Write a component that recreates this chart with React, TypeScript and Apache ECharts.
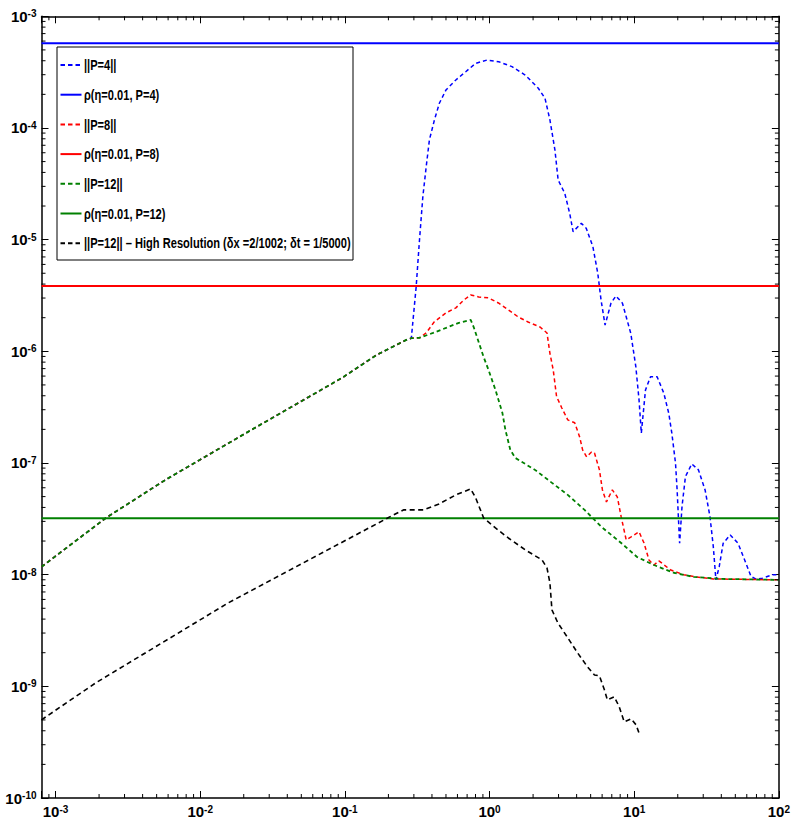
import React, { useEffect, useRef } from "react";
import * as echarts from "echarts";

const X_MIN = 8e-4;
const X_MAX = 100;
const Y_MIN = 1e-10;
const Y_MAX = 1e-3;

// shared low-frequency rise (all three coarse runs coincide here)
const sharedRise: number[][] = [
  [8.0e-4, 1.175e-8],
  [2.23e-3, 3.22e-8],
  [5.75e-3, 7.06e-8],
  [0.0214, 1.9e-7],
  [0.0955, 5.78e-7],
  [0.166, 9.29e-7],
  [0.266, 1.265e-6],
  [0.288, 1.31e-6],
];

const p4Tail: number[][] = [
  [0.311, 3.77e-6], [0.328, 9.94e-6], [0.346, 2.43e-5], [0.365, 4.5e-5],
  [0.384, 7.82e-5], [0.416, 1.18e-4], [0.45, 1.665e-4], [0.5, 2.19e-4],
  [0.585, 2.69e-4], [0.685, 3.19e-4], [0.802, 3.79e-4], [0.964, 4.06e-4],
  [1.158, 3.92e-4], [1.43, 3.54e-4], [1.763, 2.98e-4], [2.174, 2.27e-4],
  [2.417, 1.845e-4], [2.615, 1.18e-4], [2.831, 6.36e-5], [2.98, 3.42e-5],
  [3.311, 2.6e-5], [3.582, 1.72e-5], [3.78, 1.18e-5], [4.31, 1.4e-5],
  [4.66, 1.265e-5], [5.18, 8.65e-6], [5.6, 5.0e-6], [5.9, 2.88e-6],
  [6.29, 1.72e-6], [6.91, 2.7e-6], [7.48, 3.13e-6], [8.29, 2.7e-6],
  [9.47, 1.45e-6], [10.26, 7.3e-7], [10.8, 3.67e-7], [11.2, 1.85e-7],
  [11.97, 4.51e-7], [12.97, 5.93e-7], [14.4, 5.93e-7], [16.02, 4.22e-7],
  [17.33, 2.79e-7], [18.2, 1.85e-7], [19.3, 9.95e-8], [19.8, 5.74e-8],
  [20.6, 1.91e-8], [21.4, 4.07e-8], [22.6, 7.55e-8], [25.0, 9.8e-8],
  [27.8, 8.67e-8], [30.9, 5.74e-8], [33.4, 3.31e-8], [35.2, 1.79e-8],
  [36.7, 8.98e-9], [38.7, 1.18e-8], [41.2, 1.91e-8], [46.1, 2.27e-8],
  [52.2, 1.91e-8], [58.0, 1.355e-8], [64.2, 9.62e-9], [69.6, 9.12e-9],
  [77.4, 9.31e-9], [90.6, 1.0e-8], [100, 1.0e-8],
];

const p8Tail: number[][] = [
  [0.327, 1.32e-6], [0.365, 1.46e-6], [0.414, 1.83e-6], [0.5, 2.21e-6],
  [0.585, 2.45e-6], [0.664, 2.88e-6], [0.741, 3.2e-6], [0.841, 3.07e-6],
  [0.984, 3.01e-6], [1.152, 2.71e-6], [1.349, 2.35e-6], [1.579, 2.03e-6],
  [1.848, 1.83e-6], [2.234, 1.65e-6], [2.495, 1.46e-6], [2.615, 9.6e-7],
  [2.755, 6.82e-7], [2.907, 3.93e-7], [3.16, 3.11e-7], [3.473, 2.43e-7],
  [3.878, 2.29e-7], [4.197, 1.71e-7], [4.4, 1.31e-7], [4.69, 1.135e-7],
  [5.07, 1.256e-7], [5.315, 1.23e-7], [5.75, 8.67e-8], [6.03, 5.74e-8],
  [6.425, 4.48e-8], [7.06, 5.74e-8], [7.64, 4.97e-8], [8.13, 3.29e-8],
  [8.8, 2.05e-8], [9.52, 2.18e-8], [10.8, 2.42e-8], [11.69, 1.92e-8],
  [12.65, 1.355e-8], [13.68, 1.22e-8], [14.8, 1.33e-8], [17.89, 1.1e-8],
  [21.96, 1.0e-8], [26.95, 9.55e-9], [35.2, 9.16e-9], [100, 8.98e-9],
];

const p12Tail: number[][] = [
  [0.327, 1.32e-6], [0.407, 1.46e-6], [0.5, 1.62e-6], [0.613, 1.8e-6],
  [0.741, 1.91e-6], [0.777, 1.65e-6], [0.841, 1.21e-6], [0.91, 8.91e-7],
  [0.984, 6.82e-7], [1.099, 4.51e-7], [1.227, 2.81e-7], [1.287, 1.98e-7],
  [1.392, 1.31e-7], [1.507, 1.11e-7], [2.063, 8.67e-8], [2.7, 6.64e-8],
  [3.473, 5.18e-8], [4.54, 3.8e-8], [5.934, 2.68e-8], [8.13, 1.92e-8],
  [10.47, 1.44e-8], [13.68, 1.22e-8], [18.76, 1.04e-8], [25.7, 9.55e-9],
  [39.35, 9.16e-9], [100, 8.98e-9],
];

const p12HighRes: number[][] = [
  [8.0e-4, 5.01e-10], [1.91e-3, 1.08e-9], [0.0156, 5.58e-9], [0.204, 3.29e-8],
  [0.254, 3.8e-8], [0.348, 3.8e-8], [0.448, 4.3e-8], [0.585, 5.18e-8],
  [0.741, 5.86e-8], [0.802, 4.87e-8], [0.91, 3.22e-8], [1.099, 2.62e-8],
  [1.349, 2.13e-8], [1.763, 1.67e-8], [2.305, 1.355e-8], [2.495, 1.15e-8],
  [2.615, 8.44e-9], [2.7, 4.83e-9], [2.966, 3.7e-9], [3.473, 2.72e-9],
  [4.064, 1.99e-9], [4.76, 1.49e-9], [5.315, 1.265e-9], [5.75, 1.24e-9],
  [6.22, 9.31e-10], [6.525, 7.57e-10], [7.285, 8.05e-10], [7.88, 6.56e-10],
  [8.53, 4.81e-10], [9.52, 5.12e-10], [10.3, 4.52e-10], [10.97, 3.6e-10],
];

const rhoP4 = 5.73e-4;
const rhoP8 = 3.85e-6;
const rhoP12 = 3.2e-8;

const names = [
  "||P=4||",
  "ρ(η=0.01, P=4)",
  "||P=8||",
  "ρ(η=0.01, P=8)",
  "||P=12||",
  "ρ(η=0.01, P=12)",
  "||P=12|| – High Resolution (δx =2/1002; δt = 1/5000)",
];
const legendColors = ["#0000ff", "#0000ff", "#ff0000", "#ff0000", "#008000", "#008000", "#000000"];
const legendDashed = [true, false, true, false, true, false, true];

const minorMultipliers = [2, 3, 4, 5, 6, 7, 8, 9];
const xDecades = [1e-3, 1e-2, 1e-1, 1, 10];
const yDecades = [1e-10, 1e-9, 1e-8, 1e-7, 1e-6, 1e-5, 1e-4];

const FONT = "'Liberation Sans', Arial, sans-serif";

function powLabel(v: number): string {
  const e = Math.log10(v);
  const r = Math.round(e);
  if (Math.abs(e - r) > 1e-6) return "";
  return `{b|10}{s|${r}}`;
}

const richLabel = {
  b: { fontFamily: FONT, fontWeight: "bold", fontSize: 15, lineHeight: 15, color: "#000" },
  s: {
    fontFamily: FONT,
    fontWeight: "bold",
    fontSize: 10,
    lineHeight: 10,
    color: "#000",
    verticalAlign: "top",
    padding: [0, 0, 14, 0],
  },
};

export default function App() {
  const ref = useRef<HTMLDivElement>(null);
  useEffect(() => {
    if (!ref.current) return;
    const chart = echarts.init(ref.current, undefined, { renderer: "svg" });

    const xMinor: number[] = [9e-4];
    xDecades.forEach((d) => minorMultipliers.forEach((m) => xMinor.push(d * m)));
    const yMinor: number[] = [];
    yDecades.forEach((d) => minorMultipliers.forEach((m) => yMinor.push(d * m)));

    const tickStyle = { stroke: "#000", lineWidth: 1 };

    const axisCommon = {
      type: "log",
      logBase: 10,
      axisLine: { show: true, lineStyle: { color: "#000", width: 1.5 } },
      axisTick: { show: true, inside: true, length: 7, lineStyle: { color: "#000", width: 1 } },
      splitLine: { show: false },
      minorTick: { show: false },
    };

    const dashed = (color: string, dash: number[], width = 1.5) => ({
      color,
      width,
      type: dash,
    });

    // legend drawn as a framed box with horizontally condensed text
    const LX = 57;
    const LY = 47;
    const LW = 296;
    const LH = 213;
    const rowY0 = 65;
    const rowStep = 29.7;
    const legendChildren: any[] = [
      {
        type: "rect",
        shape: { x: LX, y: LY, width: LW, height: LH },
        style: { fill: "#fff", stroke: "#000", lineWidth: 1 },
        z: 100,
      },
    ];
    names.forEach((name, i) => {
      const y = rowY0 + i * rowStep;
      legendChildren.push({
        type: "line",
        shape: { x1: 60.5, y1: y, x2: 81.5, y2: y },
        style: {
          stroke: legendColors[i],
          lineWidth: 2,
          lineDash: legendDashed[i] ? [4.5, 3] : null,
        },
        z: 101,
      });
      legendChildren.push({
        type: "text",
        x: 84,
        y: y,
        scaleX: 0.74,
        style: {
          text: name,
          fontFamily: FONT,
          fontWeight: "bold",
          fontSize: 15,
          fill: "#000",
          align: "left",
          verticalAlign: "middle",
        },
        z: 101,
      });
    });

    const option: any = {
      animation: false,
      backgroundColor: "#fff",
      grid: { left: 41.5, right: 7, top: 16.3, bottom: 33, containLabel: false },
      graphic: legendChildren,
      xAxis: [
        {
          ...axisCommon,
          position: "bottom",
          min: X_MIN,
          max: X_MAX,
          axisLabel: { show: true, interval: 0, margin: 6, formatter: powLabel, rich: richLabel },
        },
        {
          ...axisCommon,
          position: "top",
          min: X_MIN,
          max: X_MAX,
          axisLabel: { show: false },
        },
      ],
      yAxis: [
        {
          ...axisCommon,
          position: "left",
          min: Y_MIN,
          max: Y_MAX,
          axisLabel: { show: true, interval: 0, margin: 5, formatter: powLabel, rich: richLabel },
        },
        {
          ...axisCommon,
          position: "right",
          min: Y_MIN,
          max: Y_MAX,
          axisLabel: { show: false },
        },
      ],
      series: [
        {
          name: names[0],
          type: "line",
          data: sharedRise.concat(p4Tail),
          symbol: "none",
          lineStyle: dashed("#0000ff", [4, 3]),
          z: 3,
        },
        {
          name: names[1],
          type: "line",
          data: [[X_MIN, rhoP4], [X_MAX, rhoP4]],
          symbol: "none",
          lineStyle: { color: "#0000ff", width: 2, type: "solid" },
          z: 3,
        },
        {
          name: names[2],
          type: "line",
          data: sharedRise.concat(p8Tail),
          symbol: "none",
          lineStyle: dashed("#ff0000", [4, 3]),
          z: 4,
        },
        {
          name: names[3],
          type: "line",
          data: [[X_MIN, rhoP8], [X_MAX, rhoP8]],
          symbol: "none",
          lineStyle: { color: "#ff0000", width: 2, type: "solid" },
          z: 4,
        },
        {
          name: names[4],
          type: "line",
          data: sharedRise.concat(p12Tail),
          symbol: "none",
          lineStyle: dashed("#008000", [4, 3], 1.8),
          z: 5,
        },
        {
          name: names[5],
          type: "line",
          data: [[X_MIN, rhoP12], [X_MAX, rhoP12]],
          symbol: "none",
          lineStyle: { color: "#008000", width: 2, type: "solid" },
          z: 5,
        },
        {
          name: names[6],
          type: "line",
          data: p12HighRes,
          symbol: "none",
          lineStyle: dashed("#000000", [5, 3.5], 1.6),
          z: 6,
        },
        {
          name: "xMinorTicks",
          type: "custom",
          coordinateSystem: "cartesian2d",
          xAxisIndex: 0,
          yAxisIndex: 0,
          silent: true,
          clip: false,
          z: 10,
          data: xMinor.map((v) => [v, Y_MIN]),
          renderItem: (_p: any, api: any) => {
            const v = api.value(0);
            const b = api.coord([v, Y_MIN]);
            const t = api.coord([v, Y_MAX]);
            return {
              type: "group",
              children: [
                { type: "line", shape: { x1: b[0], y1: b[1], x2: b[0], y2: b[1] - 4 }, style: tickStyle },
                { type: "line", shape: { x1: t[0], y1: t[1], x2: t[0], y2: t[1] + 4 }, style: tickStyle },
              ],
            };
          },
        },
        {
          name: "yMinorTicks",
          type: "custom",
          coordinateSystem: "cartesian2d",
          xAxisIndex: 0,
          yAxisIndex: 0,
          silent: true,
          clip: false,
          z: 10,
          data: yMinor.map((v) => [X_MIN, v]),
          renderItem: (_p: any, api: any) => {
            const v = api.value(1);
            const l = api.coord([X_MIN, v]);
            const r = api.coord([X_MAX, v]);
            return {
              type: "group",
              children: [
                { type: "line", shape: { x1: l[0], y1: l[1], x2: l[0] + 4, y2: l[1] }, style: tickStyle },
                { type: "line", shape: { x1: r[0], y1: r[1], x2: r[0] - 4, y2: r[1] }, style: tickStyle },
              ],
            };
          },
        },
      ],
    };

    chart.setOption(option);
    return () => chart.dispose();
  }, []);

  return (
    <div
      ref={ref}
      style={{ position: "fixed", left: 0, top: 0, width: 793, height: 831, background: "#fff" }}
    />
  );
}
